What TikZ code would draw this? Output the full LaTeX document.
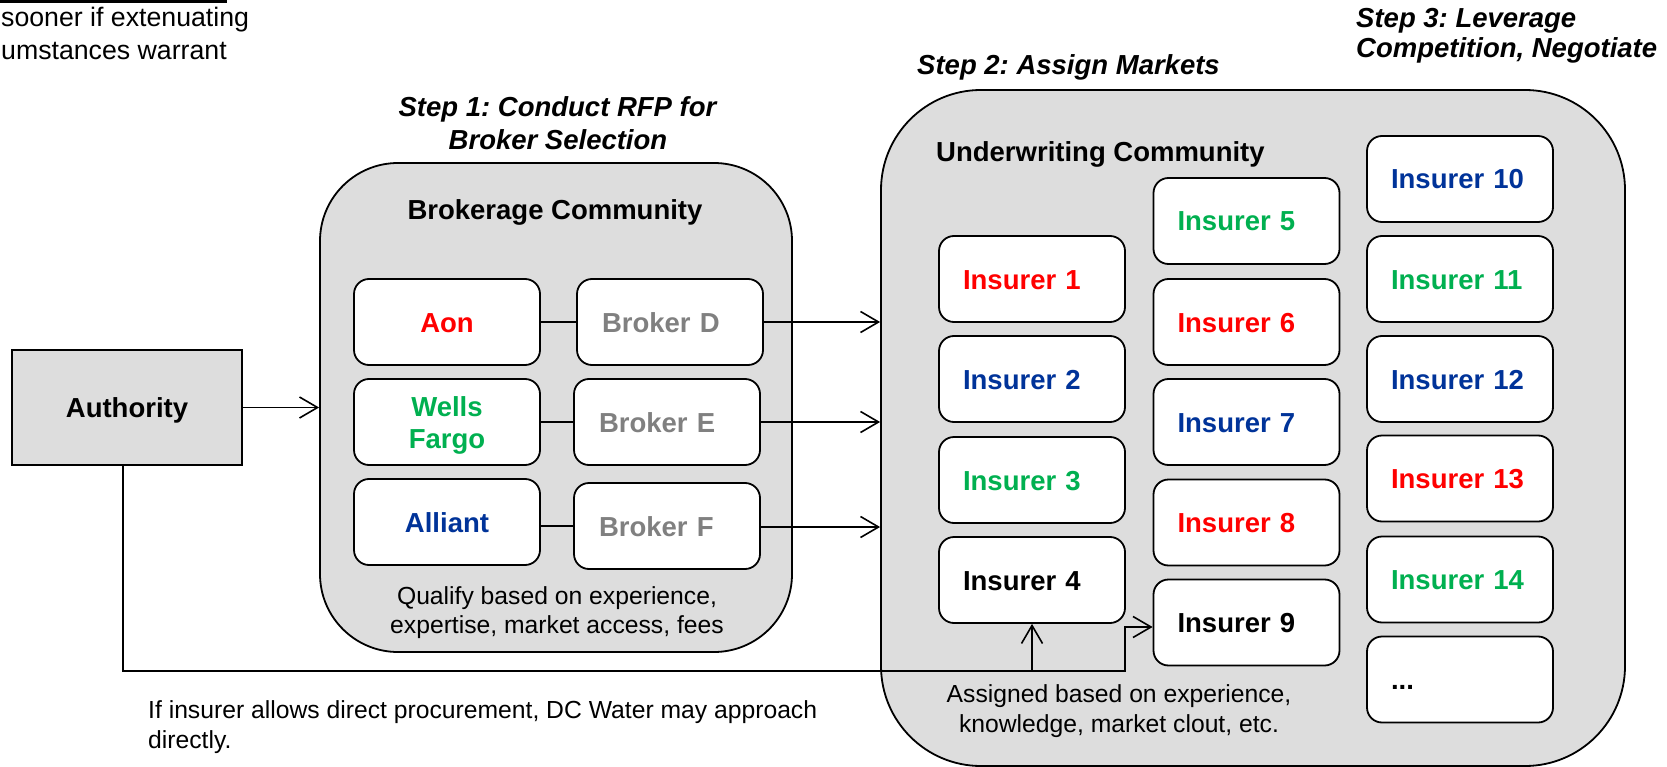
\documentclass[tikz,border=0pt]{standalone}
\usepackage{fontspec}
\setmainfont{Liberation Sans}
\usetikzlibrary{arrows.meta}
\definecolor{myred}{RGB}{255,0,0}
\definecolor{mygreen}{RGB}{0,176,80}
\definecolor{myblue}{RGB}{0,51,153}
\definecolor{mygray}{RGB}{128,128,128}
\definecolor{boxfill}{RGB}{221,221,221}
\newcommand\fbig{\fontsize{27.5}{32}\selectfont\bfseries}
\newcommand\freg{\fontsize{24.7}{29.5}\selectfont}
\newcommand\ftop{\fontsize{26.7}{32}\selectfont}
\newcommand\fstep{\fontsize{27.5}{32}\selectfont\bfseries\itshape}
\frenchspacing
\begin{document}
\begin{tikzpicture}[x=1pt,y=-1pt,
  arr/.style={line width=1.6pt,-{Straight Barb[length=18pt,width=21pt]}},
  conn/.style={line width=1.6pt},
  bigbox/.style={draw,line width=1.8pt,fill=boxfill},
  ibox/.style={draw,line width=1.8pt,fill=white,rounded corners=15pt,
     minimum height=86pt,text width=138pt,inner xsep=24pt,inner ysep=0pt,
     align=left,text height=20pt,text depth=0pt,font=\fbig},
  bbox/.style={ibox,text width=136pt,inner xsep=25pt,text=mygray},
  cbox/.style={ibox,text width=136pt,inner xsep=25pt,align=center},
  lbl/.style={inner sep=0pt,anchor=base west},
  clbl/.style={inner sep=0pt,anchor=base}
]
\useasboundingbox (0,0) rectangle (1667,767);

% top-left fragment
\fill (0,0) rectangle (227,3);
\node[lbl,font=\ftop] (tl1) at (1,27) {sooner if extenuating};
\node[lbl,font=\ftop] (tl2) at (1,60) {umstances warrant};

% step labels
\node[clbl,font=\fstep] (s1a) at (557.5,117) {Step 1: Conduct RFP for};
\node[clbl,font=\fstep] (s1b) at (558,150) {Broker Selection};
\node[lbl,font=\fstep] (s2) at (917,75) {Step 2: Assign Markets};
\node[lbl,font=\fstep] (s3a) at (1356,28) {Step 3: Leverage};
\node[lbl,font=\fstep] (s3b) at (1356,58) {Competition, Negotiate};

% containers
\node[bigbox,minimum width=230pt,minimum height=115pt,font=\fbig,
      text height=20pt,text depth=0pt,inner sep=0pt] (auth) at (127,407.5) {Authority};
\node[bigbox,rounded corners=78pt,minimum width=472pt,minimum height=489pt] (brok) at (556,407.5) {};
\node[bigbox,rounded corners=100pt,minimum width=744pt,minimum height=676pt] (under) at (1253,428) {};

\node[clbl,font=\fbig] (brokt) at (555,220) {Brokerage Community};
\node[lbl,font=\fbig] (undt) at (936,162) {Underwriting Community};

% brokers
\node[cbox,text=myred] (aon) at (447,322) {Aon};
\node[cbox,text=mygreen,text depth=32pt] (wells) at (447,422) {Wells\\Fargo};
\node[cbox,text=myblue] (alliant) at (447,522) {Alliant};
\node[bbox] (bD) at (670,322) {Broker D};
\node[bbox] (bE) at (667,422) {Broker E};
\node[bbox] (bF) at (667,526) {Broker F};

\node[clbl,font=\freg] (q1) at (557,604) {Qualify based on experience,};
\node[clbl,font=\freg] (q2) at (557,633) {expertise, market access, fees};

% insurers
\node[ibox,text=myred]   (i1) at (1032,279) {Insurer 1};
\node[ibox,text=myblue]  (i2) at (1032,379) {Insurer 2};
\node[ibox,text=mygreen] (i3) at (1032,480) {Insurer 3};
\node[ibox]              (i4) at (1032,580) {Insurer 4};
\node[ibox,text=mygreen] (i5) at (1246.5,221) {Insurer 5};
\node[ibox,text=myred]   (i6) at (1246.5,322) {Insurer 6};
\node[ibox,text=myblue]  (i7) at (1246.5,422) {Insurer 7};
\node[ibox,text=myred]   (i8) at (1246.5,522.5) {Insurer 8};
\node[ibox]              (i9) at (1246.5,622.5) {Insurer 9};
\node[ibox,text=myblue]  (i10) at (1460,179) {Insurer 10};
\node[ibox,text=mygreen] (i11) at (1460,279) {Insurer 11};
\node[ibox,text=myblue]  (i12) at (1460,379) {Insurer 12};
\node[ibox,text=myred]   (i13) at (1460,478.5) {Insurer 13};
\node[ibox,text=mygreen] (i14) at (1460,579.5) {Insurer 14};
\node[ibox]              (i15) at (1460,679.5) {...};

\node[clbl,font=\freg] (a1) at (1119,702) {Assigned based on experience,};
\node[clbl,font=\freg] (a2) at (1119,732) {knowledge, market clout, etc.};

\node[lbl,font=\freg] (n1) at (148,718) {If insurer allows direct procurement, DC Water may approach};
\node[lbl,font=\freg] (n2) at (148,748) {directly.};

% connectors
\draw[arr] (auth.east) -- (auth.east -| brok.west);
\draw[conn] (aon.east) -- (bD.west);
\draw[conn] (wells.east) -- (bE.west);
\draw[conn] (bF.west -| alliant.east) -- (bF.west);
\draw[arr] (bD.east) -- (bD.east -| under.west);
\draw[arr] (bE.east) -- (bE.east -| under.west);
\draw[arr] ([yshift=-1pt]bF.east) -- ([yshift=-1pt]bF.east -| under.west);

\coordinate (j1) at (1032,671);
\coordinate (j2) at (1125,671);
\coordinate (j3) at (1125,627);
\draw[conn] ([xshift=-4pt]auth.south) |- (j1);
\draw[arr] (j1) -- (i4.south);
\draw[arr] (j1) -- (j2) -- (j3) -- (j3 -| i9.west);
\end{tikzpicture}
\end{document}
